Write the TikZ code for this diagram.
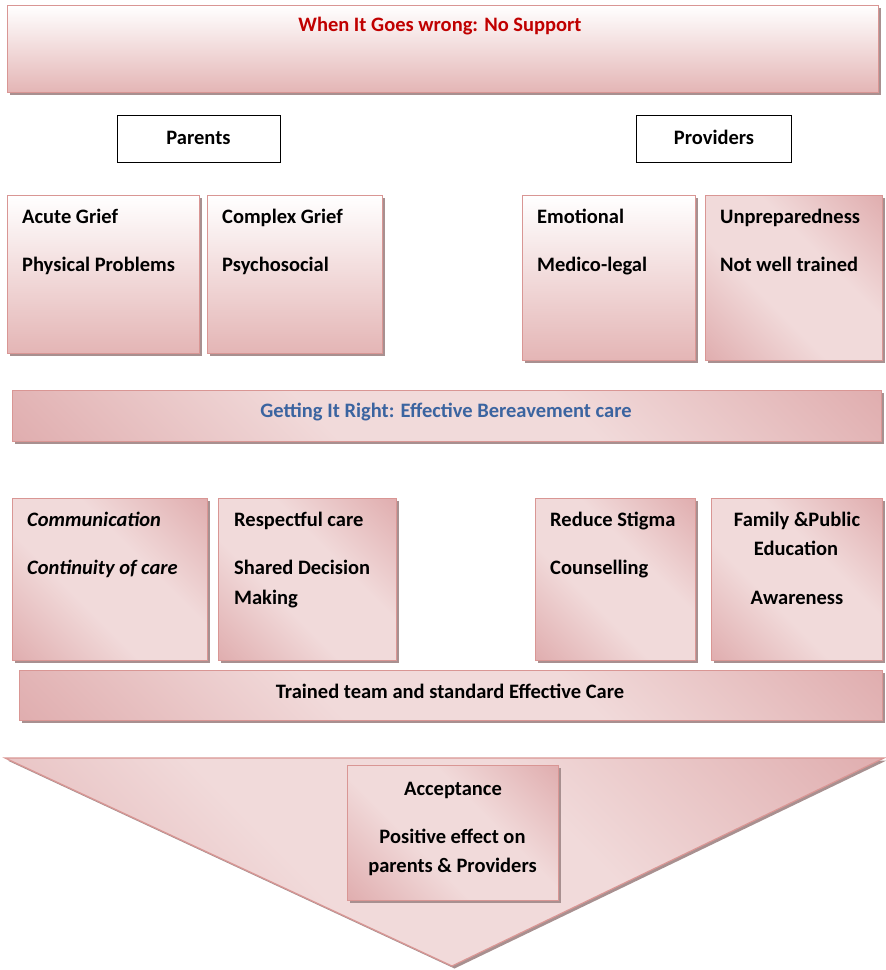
\documentclass[tikz,border=0pt]{standalone}
\usepackage{fontspec}
\setmainfont{Carlito}
\usetikzlibrary{shadows}
\definecolor{pinkedge}{HTML}{D99694}
\definecolor{pinkbot}{HTML}{E4B5B5}
\definecolor{pinkdark}{HTML}{D69496}
\definecolor{pinklight}{HTML}{F1DADA}
\definecolor{shadowc}{HTML}{A89090}
\definecolor{redtxt}{HTML}{C00000}
\definecolor{bluetxt}{HTML}{3B64A0}
\pgfdeclarehorizontalshading{pinkmix}{100bp}{color(0bp)=(pinkdark); color(40bp)=(pinklight); color(60bp)=(pinklight); color(100bp)=(pinkdark)}
\begin{document}
\begin{tikzpicture}[x=1pt, y=-1pt,
  font=\bfseries\fontsize{20.5}{24}\selectfont,
  shadowed/.style={general shadow={fill=shadowc, shadow xshift=2.5pt, shadow yshift=-2.5pt}},
  gradbox/.style={draw=pinkedge, line width=1.2pt, top color=white, bottom color=pinkbot, shadowed, anchor=north west, inner sep=0pt},
  mixbox/.style={draw=pinkedge, line width=1.2pt, shading=pinkmix, shading angle=45, shadowed, anchor=north west, inner sep=0pt},
  headbox/.style={draw=black, line width=1pt, fill=white, anchor=north west, inner sep=0pt},
  txt/.style={anchor=base west, inner sep=0pt},
  ctxt/.style={anchor=base, inner sep=0pt}]
\useasboundingbox (0,0) rectangle (886,970);

% top banner
\node[gradbox, minimum width=871pt, minimum height=87pt] (banner) at (7,5) {};
\node[ctxt, text=redtxt] (bannertxt) at (440,31) {When It Goes wrong: No Support};

% headers
\node[headbox, minimum width=163pt, minimum height=47pt] (parents) at (117,115) {};
\node[ctxt] (parentstxt) at (198.5,144) {Parents};
\node[headbox, minimum width=155pt, minimum height=47pt] (providers) at (636,115) {};
\node[ctxt] (providerstxt) at (714,144) {Providers};

% first row
\node[gradbox, minimum width=192pt, minimum height=158pt] (A) at (7,195) {};
\node[txt] (a1) at (22,223) {Acute Grief};
\node[txt] (a2) at (22,271) {Physical Problems};
\node[gradbox, minimum width=175pt, minimum height=158pt] (B) at (207,195) {};
\node[txt] (b1) at (222,223) {Complex Grief};
\node[txt] (b2) at (222,271) {Psychosocial};
\node[gradbox, minimum width=173pt, minimum height=165pt] (C) at (522,195) {};
\node[txt] (c1) at (537,223) {Emotional};
\node[txt] (c2) at (537,271) {Medico-legal};
\node[mixbox, minimum width=177pt, minimum height=165pt] (D) at (705,195) {};
\node[txt] (d1) at (720,223) {Unpreparedness};
\node[txt] (d2) at (720,271) {Not well trained};

% getting it right bar
\node[mixbox, minimum width=869pt, minimum height=51pt] (right) at (12,390) {};
\node[ctxt, text=bluetxt] (righttxt) at (446,417) {Getting It Right: Effective Bereavement care};

% second row
\node[mixbox, minimum width=195pt, minimum height=162pt] (E) at (12,498) {};
\node[txt, font=\bfseries\itshape\fontsize{20.5}{24}\selectfont] (e1) at (27,526) {Communication};
\node[txt, font=\bfseries\itshape\fontsize{20.5}{24}\selectfont] (e2) at (27,574) {Continuity of care};
\node[mixbox, minimum width=178pt, minimum height=162pt] (F) at (218,498) {};
\node[txt] (f1) at (234,526) {Respectful care};
\node[txt] (f2) at (234,574) {Shared Decision};
\node[txt] (f3) at (234,604) {Making};
\node[mixbox, minimum width=160pt, minimum height=162pt] (G) at (535,498) {};
\node[txt] (g1) at (550,526) {Reduce Stigma};
\node[txt] (g2) at (550,574) {Counselling};
\node[mixbox, minimum width=171pt, minimum height=162pt] (H) at (711,498) {};
\node[ctxt] (h1) at (797,526) {Family \&Public};
\node[ctxt] (h2) at (796,555) {Education};
\node[ctxt] (h3) at (797,604) {Awareness};

% trained team bar
\node[mixbox, minimum width=863pt, minimum height=50pt] (trained) at (19,670) {};
\node[ctxt] (trainedtxt) at (450,698) {Trained team and standard Effective Care};

% triangle
\draw[draw=pinkedge, line width=1.2pt, shading=pinkmix, shading angle=45, shadowed] (5,758) -- (884,758) -- (452,966) -- cycle;
\node[mixbox, minimum width=211pt, minimum height=135pt] (acc) at (347,765) {};
\node[ctxt] (acc1) at (453,795) {Acceptance};
\node[ctxt] (acc2) at (452.5,843) {Positive effect on};
\node[ctxt] (acc3) at (452.5,872) {parents \& Providers};
\end{tikzpicture}
\end{document}
